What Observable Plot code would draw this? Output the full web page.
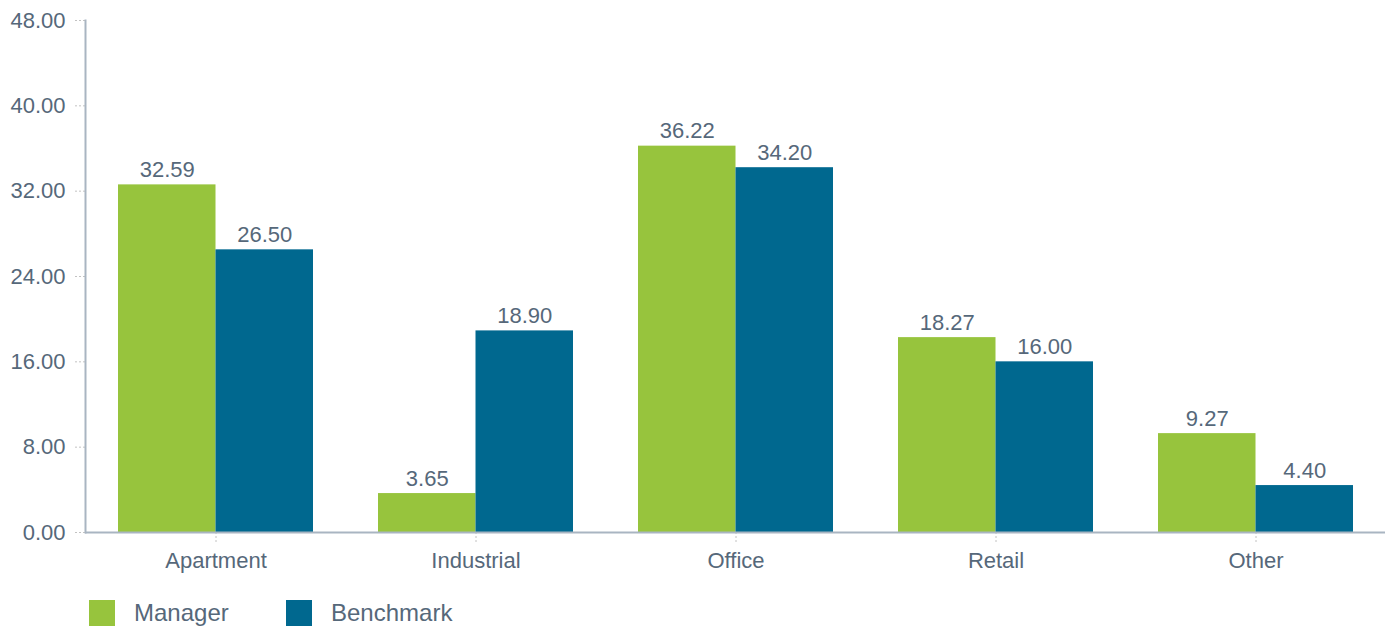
<!DOCTYPE html>
<html><head><meta charset="utf-8">
<script src="https://cdn.jsdelivr.net/npm/d3@7"></script>
<script src="https://cdn.jsdelivr.net/npm/@observablehq/plot@0.6"></script>
<style>
body{margin:0;background:#fff;font-family:"Liberation Sans",Arial,sans-serif;}
#chart svg{display:block;}
#legend{position:relative;height:26px;margin-top:18px;color:#56687a;font-size:24px;}
.item{position:absolute;top:0;display:flex;align-items:center;height:26px;}
.sw{width:26px;height:26px;display:inline-block;margin-right:19px;}
</style></head>
<body>
<div id="chart"></div>
<div id="legend"></div>
<script>
const categories = ["Apartment", "Industrial", "Office", "Retail", "Other"];
const series = ["Manager", "Benchmark"];
const manager = [32.59, 3.65, 36.22, 18.27, 9.27];
const benchmark = [26.50, 18.90, 34.20, 16.00, 4.40];
const yTicks = [0, 8, 16, 24, 32, 40, 48];
const colors = ["#97c43d", "#00688f"];

const textColor = "#56687a";
const fmt = d3.format(".2f");
const managerData = categories.map((c, i) => ({category: c, series: "Manager", value: manager[i]}));
const benchmarkData = categories.map((c, i) => ({category: c, series: "Benchmark", value: benchmark[i]}));

const W = 1388, mL = 85, mR = 3;
const padInner = 0.25, padOuter = 0.125;
const step = (W - mL - mR) / (categories.length - padInner + 2 * padOuter);
const half = step * (1 - padInner) / 2;

const chart = Plot.plot({
  width: W,
  height: 582,
  marginLeft: mL,
  marginRight: mR,
  marginTop: 20,
  marginBottom: 50,
  style: {fontFamily: "'Liberation Sans', Arial, sans-serif", fontSize: "22px", color: textColor, background: "#fff"},
  x: {domain: categories, paddingInner: padInner, paddingOuter: padOuter, label: null},
  y: {domain: [0, 48], label: null},
  color: {domain: series, range: colors},
  marks: [
    Plot.barY(managerData, {x: "category", y: "value", fill: "series", insetRight: half}),
    Plot.barY(benchmarkData, {x: "category", y: "value", fill: "series", insetLeft: half}),
    Plot.text(managerData, {x: "category", y: "value", text: d => fmt(d.value), dx: -half / 2, lineAnchor: "bottom", dy: -8, fill: textColor, fontSize: 22}),
    Plot.text(benchmarkData, {x: "category", y: "value", text: d => fmt(d.value), dx: half / 2, lineAnchor: "bottom", dy: -8, fill: textColor, fontSize: 22}),
    Plot.axisY({ticks: yTicks, tickFormat: fmt, tickSize: 11, tickPadding: 9, stroke: "#c2c2c2", strokeDasharray: "2,2", fill: textColor, fontSize: 22, label: null}),
    Plot.axisX({anchor: "bottom", tickSize: 12, tickPadding: 8, stroke: "#c2c2c2", strokeDasharray: "2,2", fill: textColor, fontSize: 22, label: null}),
    Plot.ruleY([0], {stroke: "#a9b5c2", strokeWidth: 2}),
    Plot.frame({anchor: "left", stroke: "#a9b5c2", strokeWidth: 2})
  ]
});
document.getElementById("chart").appendChild(chart);

const legend = document.getElementById("legend");
const lefts = [89, 286];
series.forEach((s, i) => {
  const item = document.createElement("div");
  item.className = "item";
  item.style.left = lefts[i] + "px";
  const sw = document.createElement("span");
  sw.className = "sw";
  sw.style.background = colors[i];
  const t = document.createElement("span");
  t.textContent = s;
  item.appendChild(sw);
  item.appendChild(t);
  legend.appendChild(item);
});
</script>
</body></html>
